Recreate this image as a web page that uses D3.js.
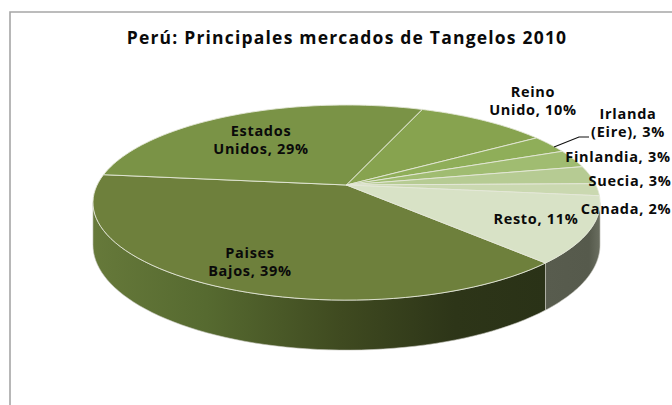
<!DOCTYPE html>
<html><head><meta charset="utf-8">
<script src="https://cdn.jsdelivr.net/npm/d3@7"></script>
<style>html,body{margin:0;padding:0;background:#fff}svg{display:block}text{font-family:"Open Sans",sans-serif;font-weight:700;fill:#0a0a0a}</style>
</head><body><svg id="c" width="672" height="405"></svg>
<script>
const titleText = "Perú: Principales mercados de Tangelos 2010";
const categories = ["Paises Bajos","Estados Unidos","Reino Unido","Irlanda (Eire)","Finlandia","Suecia","Canada","Resto"];
const values = [39,29,10,3,3,3,2,11];
const topColors = ["#6e803c","#7a9346","#87a34f","#8fae59","#a0bc71","#b6cb93","#cad8b0","#d8e2c6"];
const labelLines = [["Paises","Bajos, 39%"],["Estados","Unidos, 29%"],["Reino","Unido, 10%"],["Irlanda","(Eire), 3%"],["Finlandia, 3%"],["Suecia, 3%"],["Canada, 2%"],["Resto, 11%"]];
const labelPos = [[250,258],[261,136],[533,97],[628,119],[618,162],[630,186],[626,214],[536,224]];

const svg = d3.select("#c");
const cx=346.5, cy=185, A=94.4, B=249.4, D=41, k=0.18;
const project=(a,lower)=>{const dx=Math.sin(a),dy=-Math.cos(a),w=1-k*dy;
  return [cx+B*dx/w, cy+(A*dy+(lower?D:0))/w];};
const apex=[cx,cy];
const pie=d3.pie().sort(null).startAngle(136*Math.PI/180).endAngle((136+360)*Math.PI/180);
const arcs=pie(values);
const line=d3.line();
const samples=(a0,a1,lower)=>d3.range(0,61).map(i=>project(a0+(a1-a0)*i/60,lower));

// frame
svg.append("path").attr("d",line([[10,405],[10,12],[672,12]])).attr("fill","none").attr("stroke","#a6a6a6").attr("stroke-width",1.6);

// side gradient
const defs=svg.append("defs");
const g=defs.append("linearGradient").attr("id","side").attr("gradientUnits","userSpaceOnUse")
 .attr("x1",93).attr("x2",545).attr("y1",0).attr("y2",0);
[[0,"#66793a"],[.25,"#566a30"],[.55,"#3f4a20"],[.8,"#2d3518"],[1,"#2a3217"]].forEach(s=>g.append("stop").attr("offset",s[0]).attr("stop-color",s[1]));
const g2=defs.append("linearGradient").attr("id","side2").attr("gradientUnits","userSpaceOnUse")
 .attr("x1",545).attr("x2",600).attr("y1",0).attr("y2",0);
[[0,"#585c4e"],[.8,"#565a4c"],[1,"#6a6e60"]].forEach(s=>g2.append("stop").attr("offset",s[0]).attr("stop-color",s[1]));

const rightExt=Math.PI/2+Math.asin(k), leftExt=3*Math.PI/2-Math.asin(k);
const band=(a0,a1)=>line(samples(a0,a1,false).concat(samples(a1,a0,true)))+"Z";
svg.append("path").attr("d",band(arcs[0].startAngle,leftExt)).attr("fill","url(#side)").attr("stroke","#c8c8c0").attr("stroke-width",.6);
svg.append("path").attr("d",band(rightExt,arcs[7].endAngle-2*Math.PI)).attr("fill","url(#side2)").attr("stroke","#c8c8c0").attr("stroke-width",.6);

// top faces
svg.append("g").selectAll("path").data(arcs).join("path")
 .attr("d",d=>line([apex].concat(samples(d.startAngle,d.endAngle,false)))+"Z")
 .attr("fill",(d,i)=>topColors[i]).attr("stroke","#e4e8d8").attr("stroke-width",.9).attr("stroke-linejoin","round");

// title
svg.append("text").attr("x",347).attr("y",44).attr("text-anchor","middle").attr("font-size",17.5).attr("letter-spacing",1.2).text(titleText);

// leader line
svg.append("path").attr("d",line([[554,147],[579,137],[589,137]])).attr("fill","none").attr("stroke","#111").attr("stroke-width",1.2);

// labels
const lab=svg.append("g").selectAll("text").data(labelLines).join("text")
 .attr("text-anchor","middle").attr("font-size",14.5).attr("letter-spacing",.7);
lab.each(function(d,i){const s=d3.select(this);
 d.forEach((t,j)=>s.append("tspan").attr("x",labelPos[i][0]).attr("y",labelPos[i][1]+j*18).text(t));});
</script></body></html>
